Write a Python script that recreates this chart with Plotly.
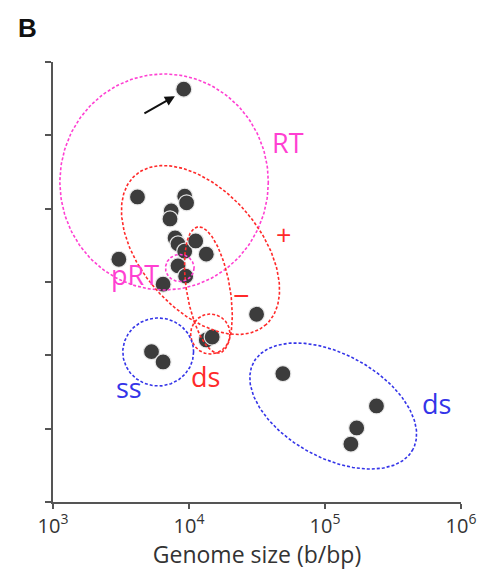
import math
import numpy as np
import plotly.graph_objects as go

# ---- data ----
genome_size_bp = [9150, 4180, 9300, 9600, 7400, 7250, 7900, 8300, 9300, 11200,
                  13400, 3050, 8300, 9450, 6450, 31400, 13400, 14800, 5300, 6450,
                  49000, 239000, 171000, 155000]
y_value = [5.63, 4.16, 4.17, 4.08, 3.97, 3.86, 3.60, 3.52, 3.42, 3.56,
           3.38, 3.31, 3.22, 3.08, 2.97, 2.56, 2.21, 2.25, 2.05, 1.91,
           1.75, 1.31, 1.01, 0.79]
x_tick_vals = [1e3, 1e4, 1e5, 1e6]
x_tick_text = ["10<sup>3</sup>", "10<sup>4</sup>", "10<sup>5</sup>", "10<sup>6</sup>"]
y_tick_vals = [0, 1, 2, 3, 4, 5, 6]

# group outlines: name, center (bp, y), semi-axes (px), angle (deg, screen), colour
groups = [
    ("RT",   6560,   4.364, 106, 108, 0,  "#ff3fd2"),
    ("+",    12150,  3.436, 100, 60,  48, "#ff2a2a"),
    ("-",    13880,  2.891, 64,  22,  80, "#ff2a2a"),
    ("dsR",  14350,  2.291, 20,  20,  0,  "#ff2a2a"),
    ("pRT",  8560,   3.191, 14.5, 13.5, 0, "#ff3fd2"),
    ("ss",   5935,   2.046, 36,  34,  0,  "#3434e8"),
    ("dsB",  114900, 1.309, 92,  52,  28, "#3434e8"),
]

# labels: text, (bp, y), colour, size
labels = [
    ("RT",  53400, 4.909, "#ff3fd2", 27),
    ("+",   49200, 3.641, "#ff2a2a", 27),
    ("\u2212", 24400, 2.823, "#ff2a2a", 29),
    ("pRT", 3980,  3.096, "#ff3fd2", 27),
    ("ds",  13200, 1.705, "#ff2a2a", 27),
    ("ss",  3600,  1.568, "#3434e8", 27),
    ("ds",  660000, 1.350, "#3434e8", 27),
]

# ---- geometry (page has an 8px body margin) ----
OFF = 8
W, H = 480, 562
ML, MR, MT, MB = 45, 20, 54, 68
PW, PH = W - ML - MR, H - MT - MB
XR = [3, 6]
YR = [0, 6]
ppd = PW / (XR[1] - XR[0])
ppy = PH / (YR[1] - YR[0])

fig = go.Figure()

fig.add_trace(go.Scatter(
    x=genome_size_bp, y=y_value, mode="markers",
    marker=dict(size=16, color="#3c3c3c",
                line=dict(color="rgba(235,235,235,0.95)", width=1.2)),
    hoverinfo="skip", showlegend=False))

t = np.linspace(0, 2 * np.pi, 200)
for name, cx, cy, a, b, ang, col in groups:
    th = math.radians(ang)
    dxp = a * np.cos(t) * math.cos(th) - b * np.sin(t) * math.sin(th)
    dyp = a * np.cos(t) * math.sin(th) + b * np.sin(t) * math.cos(th)
    lx = math.log10(cx) + dxp / ppd
    ly = cy - dyp / ppy
    fig.add_trace(go.Scatter(
        x=10 ** lx, y=ly, mode="lines",
        line=dict(color=col, width=1.6, dash="3px,2px"),
        hoverinfo="skip", showlegend=False))

FONT = "Open Sans"
for txt, bx, by, col, sz in labels:
    fig.add_annotation(x=math.log10(bx), y=by, xref="x", yref="y", text=txt,
                       showarrow=False, font=dict(family=FONT, size=sz, color=col),
                       xanchor="center", yanchor="middle")

# arrow pointing to top point
fig.add_annotation(x=math.log10(genome_size_bp[0]) - 9 / ppd, y=y_value[0] - 7 / ppy,
                   xref="x", yref="y", ax=-32, ay=18, text="",
                   showarrow=True, arrowhead=2, arrowsize=1, arrowwidth=2,
                   arrowcolor="#111")

# panel letter at page pixel (27, 28)
fig.add_annotation(x=(27 - OFF - ML) / PW, y=(H + OFF - MB - 28) / PH,
                   xref="paper", yref="paper",
                   text="<b>B</b>", showarrow=False,
                   font=dict(family="Liberation Sans", size=26, color="#111"),
                   xanchor="center", yanchor="middle")

axis_col = "#555555"
fig.update_layout(
    width=W, height=H,
    margin=dict(l=ML, r=MR, t=MT, b=MB),
    plot_bgcolor="white", paper_bgcolor="white",
    font=dict(family=FONT, color="#333333"),
    xaxis=dict(type="log", range=XR, tickvals=x_tick_vals, ticktext=x_tick_text,
               showgrid=False, zeroline=False, showline=True, linecolor=axis_col,
               linewidth=1.6, ticks="outside", ticklen=5, tickwidth=1.6,
               tickcolor=axis_col, tickfont=dict(size=20, color="#333"),
               title=dict(text="Genome size (b/bp)", font=dict(size=23, color="#333"),
                          standoff=2)),
    yaxis=dict(range=YR, tickvals=y_tick_vals, showticklabels=False,
               showgrid=False, zeroline=False, showline=True, linecolor=axis_col,
               linewidth=1.6, ticks="outside", ticklen=6, tickwidth=1.6,
               tickcolor=axis_col),
)

fig.write_html("out.html")
